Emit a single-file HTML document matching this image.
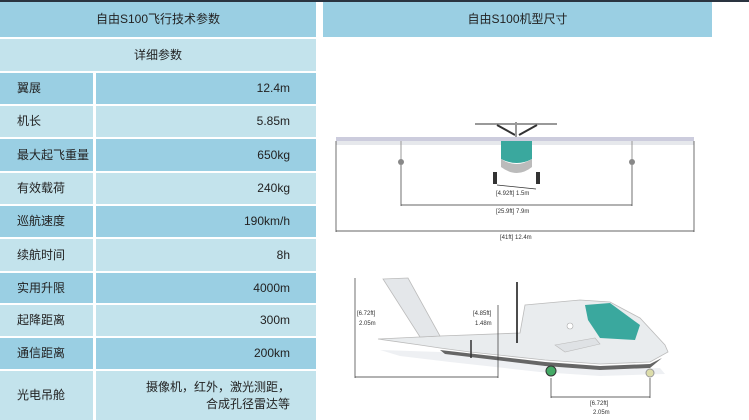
<!DOCTYPE html>
<html><head><meta charset="utf-8"><style>
*{margin:0;padding:0;box-sizing:border-box}
body{width:749px;height:420px;background:#fff;position:relative;overflow:hidden;font-family:"Liberation Sans","Noto Sans CJK SC",sans-serif;font-size:12px;color:#222}
.topline{position:absolute;left:0;top:0;width:749px;height:2px;background:#2a3440}
.r{position:absolute;left:0;width:316px;}
.d{background:#9acfe3}.l{background:#c3e3ec}
.r .a{position:absolute;left:17px;top:0;line-height:inherit}
.r .b{position:absolute;right:26px;top:0;}
.r .sep{position:absolute;left:93px;top:0;bottom:0;width:3px;background:#fff}
.c{text-align:center}
</style></head><body>
<div class="topline"></div>
<div class="r d c" style="top:2px;height:35px;line-height:35px">自由S100飞行技术参数</div>
<div class="r l c" style="top:39px;height:32px;line-height:32px">详细参数</div>
<div class="r d" style="top:73px;height:31px;line-height:31px"><span class="a">翼展</span><span class="sep"></span><span class="b">12.4m</span></div>
<div class="r l" style="top:106px;height:31px;line-height:31px"><span class="a">机长</span><span class="sep"></span><span class="b">5.85m</span></div>
<div class="r d" style="top:139px;height:32px;line-height:32px"><span class="a">最大起飞重量</span><span class="sep"></span><span class="b">650kg</span></div>
<div class="r l" style="top:173px;height:31px;line-height:31px"><span class="a">有效载荷</span><span class="sep"></span><span class="b">240kg</span></div>
<div class="r d" style="top:206px;height:31px;line-height:31px"><span class="a">巡航速度</span><span class="sep"></span><span class="b">190km/h</span></div>
<div class="r l" style="top:239px;height:32px;line-height:32px"><span class="a">续航时间</span><span class="sep"></span><span class="b">8h</span></div>
<div class="r d" style="top:273px;height:30px;line-height:30px"><span class="a">实用升限</span><span class="sep"></span><span class="b">4000m</span></div>
<div class="r l" style="top:305px;height:31px;line-height:31px"><span class="a">起降距离</span><span class="sep"></span><span class="b">300m</span></div>
<div class="r d" style="top:338px;height:31px;line-height:31px"><span class="a">通信距离</span><span class="sep"></span><span class="b">200km</span></div>
<div class="r l" style="top:371px;height:49px;line-height:49px"><span class="a">光电吊舱</span><span class="sep"></span><span class="b" style="line-height:17px;top:8px;text-align:right">摄像机，红外，激光测距，<br>合成孔径雷达等</span></div>
<div style="position:absolute;left:323px;top:2px;width:389px;height:35px;line-height:35px;background:#9acfe3;text-align:center">自由S100机型尺寸</div>
<svg style="position:absolute;left:0;top:0" width="749" height="420" font-family="Liberation Sans" font-size="6" fill="#333">
<!-- front view -->
<rect x="336" y="137" width="358" height="4" fill="#ccd" />
<rect x="336" y="141" width="358" height="4" fill="#e6e8ec"/>
<line x1="475" y1="124" x2="557" y2="124" stroke="#999" stroke-width="2"/>
<line x1="497" y1="125" x2="515" y2="135" stroke="#333" stroke-width="2"/>
<line x1="537" y1="125" x2="519" y2="135" stroke="#333" stroke-width="2"/>
<line x1="516" y1="122" x2="516" y2="137" stroke="#999" stroke-width="2"/>
<path d="M501 141 h31 v18 q-15 8 -31 0z" fill="#3aa89e"/>
<path d="M501 159 q15 10 31 0 v8 q-15 12 -31 0z" fill="#bbb"/>
<rect x="493" y="172" width="4" height="12" fill="#333"/><rect x="536" y="172" width="4" height="12" fill="#333"/>
<line x1="401" y1="141" x2="401" y2="160" stroke="#999"/><circle cx="401" cy="162" r="3" fill="#888"/>
<line x1="632" y1="141" x2="632" y2="160" stroke="#999"/><circle cx="632" cy="162" r="3" fill="#888"/>
<g stroke="#333" stroke-width="0.7">
<line x1="336" y1="141" x2="336" y2="232"/><line x1="694" y1="141" x2="694" y2="232"/>
<line x1="336" y1="231" x2="694" y2="231"/>
<line x1="401" y1="165" x2="401" y2="206"/><line x1="632" y1="165" x2="632" y2="206"/>
<line x1="401" y1="205" x2="632" y2="205"/>
<line x1="497" y1="185" x2="536" y2="189"/>
</g>
<text x="496" y="195">[4.92ft]  1.5m</text>
<text x="496" y="213">[25.9ft]  7.9m</text>
<text x="500" y="239">[41ft]  12.4m</text>
<!-- side view -->
<path d="M380 350 L440 352 L545 366 L600 370 L660 368 L665 374 L600 376 L540 372 L450 362 L400 356Z" fill="#eef0f3"/>
<path d="M378 339 L440 336 L520 333 L525 305 L580 300 L610 302 L640 318 L665 345 L668 352 L650 362 L600 364 L545 360 L470 352 L440 348 L420 345 Z" fill="#e9ecee" stroke="#bbb" stroke-width="0.8"/>
<path d="M383 279 L408 278 L440 336 L420 337 Z" fill="#e4e7ea" stroke="#bbb" stroke-width="0.8"/>
<path d="M585 305 L610 303 L640 325 L635 340 L600 338 L588 320Z" fill="#3aa89e"/>
<path d="M440 350 L545 362 L600 366 L650 364 L662 358 L650 368 L600 370 L545 366 L445 354Z" fill="#666"/>
<path d="M555 345 L595 338 L600 344 L565 352Z" fill="#dfe2e5" stroke="#bbb" stroke-width="0.6"/>
<circle cx="570" cy="326" r="3" fill="#fff" stroke="#aaa" stroke-width="0.6"/>
<line x1="517" y1="282" x2="517" y2="343" stroke="#111" stroke-width="1.5"/>
<circle cx="551" cy="371" r="5" fill="#4a6" stroke="#333"/>
<circle cx="650" cy="373" r="4" fill="#dda" stroke="#999"/>
<g stroke="#333" stroke-width="0.7">
<line x1="355" y1="278" x2="355" y2="378"/><line x1="355" y1="377" x2="498" y2="377"/>
<line x1="498" y1="305" x2="498" y2="378"/>
<line x1="471" y1="340" x2="471" y2="358" stroke-width="1.5"/>
<line x1="551" y1="378" x2="551" y2="398"/><line x1="650" y1="378" x2="650" y2="398"/>
<line x1="551" y1="397" x2="650" y2="397"/>
</g>
<text x="357" y="315">[6.72ft]</text><text x="359" y="325">2.05m</text>
<text x="473" y="315">[4.85ft]</text><text x="475" y="325">1.48m</text>
<text x="590" y="405">[6.72ft]</text><text x="593" y="414">2.05m</text>
</svg>
</body></html>
